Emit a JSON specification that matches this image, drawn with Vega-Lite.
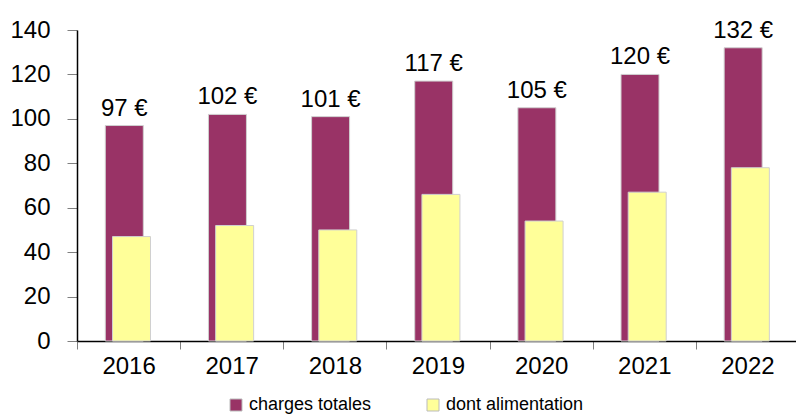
{
  "$schema": "https://vega.github.io/schema/vega-lite/v6.json",
  "autosize": "none",
  "width": 722,
  "height": 311,
  "padding": {"left": 77, "top": 30, "right": 0, "bottom": 76},
  "background": "white",
  "config": {
    "view": {"stroke": null},
    "font": "Liberation Sans"
  },
  "data": {
    "values": [
      {"year": "2016", "serie": "charges totales", "value": 97},
      {"year": "2017", "serie": "charges totales", "value": 102},
      {"year": "2018", "serie": "charges totales", "value": 101},
      {"year": "2019", "serie": "charges totales", "value": 117},
      {"year": "2020", "serie": "charges totales", "value": 105},
      {"year": "2021", "serie": "charges totales", "value": 120},
      {"year": "2022", "serie": "charges totales", "value": 132},
      {"year": "2016", "serie": "dont alimentation", "value": 47},
      {"year": "2017", "serie": "dont alimentation", "value": 52},
      {"year": "2018", "serie": "dont alimentation", "value": 50},
      {"year": "2019", "serie": "dont alimentation", "value": 66},
      {"year": "2020", "serie": "dont alimentation", "value": 54},
      {"year": "2021", "serie": "dont alimentation", "value": 67},
      {"year": "2022", "serie": "dont alimentation", "value": 78}
    ]
  },
  "encoding": {
    "x": {
      "field": "year",
      "type": "nominal",
      "title": null,
      "scale": {"paddingInner": 0, "paddingOuter": 0},
      "axis": {
        "labelAngle": 0,
        "labelFont": "Liberation Sans",
        "labelFontSize": 24,
        "labelColor": "black",
        "labelPadding": 5,
        "tickBand": "extent",
        "tickSize": 8,
        "tickColor": "#808080",
        "domainColor": "black",
        "domainWidth": 1.5
      }
    },
    "xOffset": {
      "field": "serie",
      "type": "nominal",
      "scale": {
        "domain": ["charges totales", "dont alimentation"],
        "range": [43.7, 58.1],
        "paddingInner": 0,
        "paddingOuter": 0
      }
    },
    "y": {
      "field": "value",
      "type": "quantitative",
      "title": null,
      "scale": {"domain": [0, 140]},
      "axis": {
        "values": [0, 20, 40, 60, 80, 100, 120, 140],
        "grid": false,
        "labelFont": "Liberation Sans",
        "labelFontSize": 24,
        "labelColor": "black",
        "labelPadding": 17,
        "tickSize": 10,
        "tickColor": "#808080",
        "domainColor": "black",
        "domainWidth": 1.5
      }
    }
  },
  "layer": [
    {
      "mark": {"type": "bar", "width": 38, "stroke": "#d0d0d0", "strokeWidth": 1},
      "encoding": {
        "color": {
          "field": "serie",
          "type": "nominal",
          "scale": {
            "domain": ["charges totales", "dont alimentation"],
            "range": ["#993366", "#FFFF99"]
          },
          "legend": {
            "title": null,
            "orient": "none",
            "direction": "horizontal",
            "legendX": 150,
            "legendY": 366,
            "symbolType": "square",
            "symbolSize": 144,
            "symbolStrokeColor": "#bbbbbb",
            "symbolStrokeWidth": 1,
            "symbolOpacity": 1,
            "labelFont": "Liberation Sans",
            "labelFontSize": 18,
            "labelColor": "black",
            "labelOffset": 4,
            "columnPadding": 52,
            "labelLimit": 300
          }
        }
      }
    },
    {
      "transform": [
        {"filter": "datum.serie === 'charges totales'"},
        {"calculate": "datum.value + ' €'", "as": "label"}
      ],
      "mark": {
        "type": "text",
        "baseline": "alphabetic",
        "dy": -10,
        "font": "Liberation Sans",
        "fontSize": 24,
        "color": "black"
      },
      "encoding": {
        "text": {"field": "label"}
      }
    }
  ]
}
